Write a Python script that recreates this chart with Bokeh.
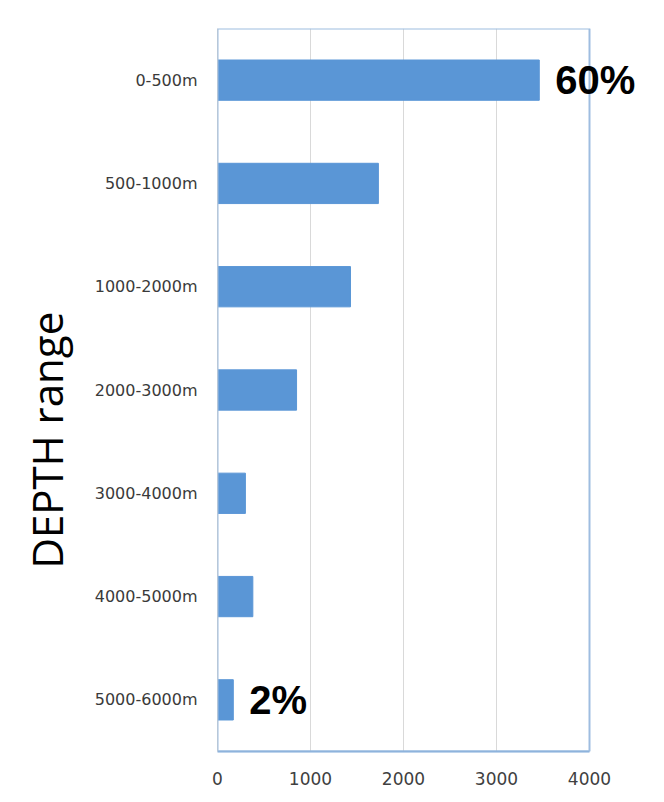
from bokeh.plotting import figure
from bokeh.models import (ColumnDataSource, FactorRange, FixedTicker, Label, Range1d,
                          BoxAnnotation, Title)
from bokeh.embed import file_html
from bokeh.resources import INLINE

categories = ["0-500m", "500-1000m", "1000-2000m", "2000-3000m",
              "3000-4000m", "4000-5000m", "5000-6000m"]
counts = [3460, 1730, 1430, 850, 300, 380, 170]
pct_labels = ["60%", "", "", "", "", "", "2%"]
x_ticks = [0, 1000, 2000, 3000, 4000]
x_max = 4000
y_title = "DEPTH range"

source = ColumnDataSource(dict(cat=categories, val=counts))

factors = list(reversed(categories))
p = figure(
    y_range=FactorRange(factors=factors, range_padding=0),
    x_range=Range1d(0, x_max * 430 / 372),
    frame_width=430, frame_height=723,
    min_border_left=217, min_border_top=28, min_border_right=0, min_border_bottom=43,
    output_backend="svg", toolbar_location=None,
    background_fill_color="white", border_fill_color="white",
)

p.hbar(y="cat", right="val", left=0, height=0.39, source=source,
       fill_color="#5a96d6", line_color="#5a96d6", line_width=1)

# plot-area box (0..4000)
p.add_layout(BoxAnnotation(left=0, right=x_max, fill_alpha=0, fill_color=None,
                           line_color="#9ebde0", line_alpha=1.0, line_width=2))

# categorical factor i sits at synthetic coordinate i + 0.5
for cat, val, txt in zip(categories, counts, pct_labels):
    if txt:
        p.add_layout(Label(x=val, y=factors.index(cat) + 0.5, text=txt, x_offset=16,
                           text_baseline="middle", text_align="left",
                           text_font="Liberation Sans", text_font_style="bold",
                           text_font_size="40px", text_color="black"))

p.add_layout(Title(text=y_title, align="left", vertical_align="top", offset=183, standoff=30,
                   text_font="Open Sans", text_font_style="normal",
                   text_font_size="42px", text_color="black"), "left")

# axes
p.xaxis.ticker = FixedTicker(ticks=x_ticks)
p.xaxis.bounds = (0, x_max)
p.xaxis.major_tick_line_color = None
p.xaxis.minor_tick_line_color = None
p.xaxis.axis_line_color = "#7fa9d9"
p.xaxis.axis_line_width = 2
p.xaxis.major_label_text_font = "DejaVu Sans"
p.xaxis.major_label_text_font_size = "17px"
p.xaxis.major_label_text_color = "#404040"
p.xaxis.major_label_standoff = 14

p.yaxis.major_tick_line_color = None
p.yaxis.minor_tick_line_color = None
p.yaxis.axis_line_color = "#d0d0d0"
p.yaxis.major_label_text_font = "DejaVu Sans"
p.yaxis.major_label_text_font_size = "16px"
p.yaxis.major_label_text_color = "#3a3a3a"
p.yaxis.major_label_standoff = 14

p.xgrid.grid_line_color = "#d9d9d9"
p.ygrid.grid_line_color = None
p.outline_line_color = None

open("out.html", "w").write(file_html(p, INLINE))
